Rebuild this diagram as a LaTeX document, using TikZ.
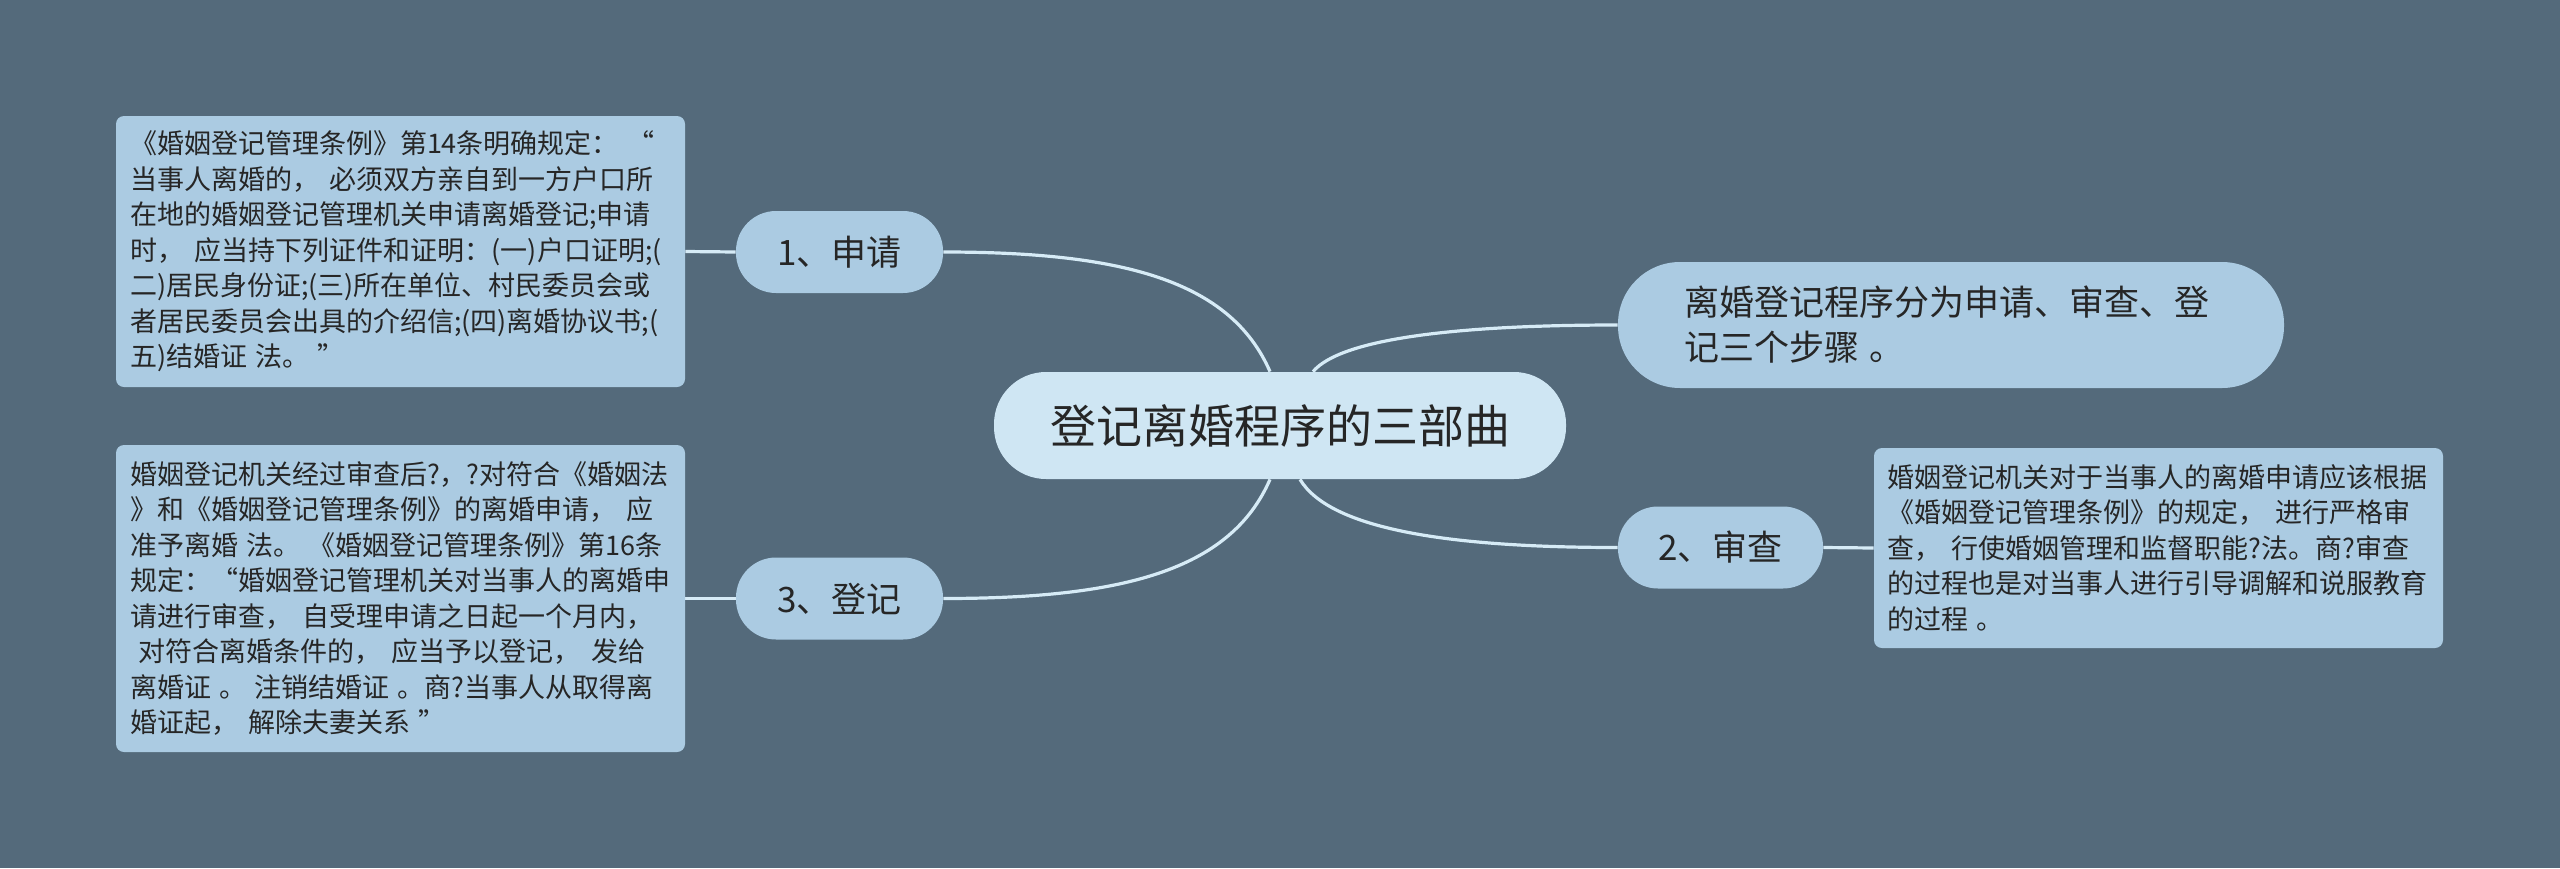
\documentclass[tikz,border=0pt]{standalone}
\usepackage{fontspec}
\setmainfont{Noto Sans CJK SC}
\definecolor{bgc}{HTML}{546A7B}
\definecolor{boxc}{HTML}{ABCBE2}
\definecolor{ctrc}{HTML}{CFE6F3}
\definecolor{linec}{HTML}{D6EBF6}
\definecolor{txtc}{HTML}{262626}
\pgfdeclarelayer{bglayer}
\pgfdeclarelayer{linelayer}
\pgfsetlayers{bglayer,linelayer,main}
\newcommand{\zsa}{\leavevmode\kern0.3em\relax}
\newcommand{\zsb}{\leavevmode\kern0.4em\relax}
\begin{document}
\begin{tikzpicture}[x=0.5pt,y=-0.5pt,
  ctr/.style={fill=ctrc,rounded corners=26pt,inner sep=0pt,minimum width=286pt,minimum height=53.5pt,font=\fontsize{23pt}{28pt}\selectfont,text=txtc},
  topicbox/.style={fill=boxc,rounded corners=31pt,inner ysep=0pt,inner xsep=33pt,text width=267pt,minimum height=63pt,align=left,font=\fontsize{17.5pt}{22.5pt}\selectfont,text=txtc},
  subbox/.style={fill=boxc,rounded corners=20pt,inner sep=0pt,minimum width=103.5pt,minimum height=41pt,font=\fontsize{17.5pt}{22pt}\selectfont,text=txtc},
  textbox/.style={fill=boxc,rounded corners=4pt,inner ysep=0pt,inner xsep=7pt,text width=270.5pt,align=left,font=\fontsize{13.5pt}{17.75pt}\selectfont,text=txtc},
  conn/.style={draw=linec,line width=1.6pt}]
\begin{pgfonlayer}{bglayer}
\fill[bgc] (0,0) rectangle (2560,868);
\end{pgfonlayer}
\useasboundingbox (0,0) rectangle (2560,868);

\node[ctr] (c) at (1280,425.5) {登记离婚程序的三部曲};
\node[topicbox] (t) at (1951,325) {离婚登记程序分为申请、审查、登\\记三个步骤\zsa{}。};
\node[subbox] (n1) at (839.5,252) {1、申请};
\node[subbox] (n3) at (839.5,598.5) {3、登记};
\node[subbox,minimum width=102.5pt] (n2) at (1720.5,547.5) {2、审查};

\node[textbox,minimum height=135.5pt] (b1) at (400.5,251.5) {《婚姻登记管理条例》第14条明确规定：\zsa{}“\\
当事人离婚的，\zsb{}必须双方亲自到一方户口所\\
在地的婚姻登记管理机关申请离婚登记;申请\\
时，\zsb{}应当持下列证件和证明：(一)户口证明;(\\
二)居民身份证;(三)所在单位、村民委员会或\\
者居民委员会出具的介绍信;(四)离婚协议书;(\\
五)结婚证\zsa{}法。\zsa{}”};

\node[textbox,minimum height=153.5pt] (b2) at (400.5,598.5) {婚姻登记机关经过审查后?，?对符合《婚姻法\\
》和《婚姻登记管理条例》的离婚申请，\zsb{}应\\
准予离婚\zsa{}法。\zsa{}《婚姻登记管理条例》第16条\\
规定：“婚姻登记管理机关对当事人的离婚申\\
请进行审查，\zsb{}自受理申请之日起一个月内，\\
\mbox{}\zsa{}对符合离婚条件的，\zsb{}应当予以登记，\zsb{}发给\\
离婚证\zsa{}。\zsa{}注销结婚证\zsa{}。商?当事人从取得离\\
婚证起，\zsb{}解除夫妻关系\zsa{}”};

\node[textbox,minimum height=100pt,inner xsep=6.5pt,text width=271.5pt] (b3) at (2158.5,548) {婚姻登记机关对于当事人的离婚申请应该根据\\
《婚姻登记管理条例》的规定，\zsb{}进行严格审\\
查，\zsb{}行使婚姻管理和监督职能?法。商?审查\\
的过程也是对当事人进行引导调解和说服教育\\
的过程\zsa{}。};

\begin{pgfonlayer}{linelayer}
\draw[conn] (n1.east) .. controls +(177,0) and +(-40,-92) .. ([xshift=-5pt]c.north);
\draw[conn] (n3.east) .. controls +(177,0) and +(-40,92) .. ([xshift=-5pt]c.south);
\draw[conn] ([xshift=16.5pt]c.north) .. controls +(27,-32) and +(-167,0) .. (t.west);
\draw[conn] ([xshift=10pt]c.south) .. controls +(30,50) and +(-168,0) .. (n2.west);
\draw[conn] (n1.west) -- (b1.east);
\draw[conn] (n3.west) -- (b2.east);
\draw[conn] (n2.east) -- (b3.west);
\end{pgfonlayer}
\end{tikzpicture}
\end{document}
